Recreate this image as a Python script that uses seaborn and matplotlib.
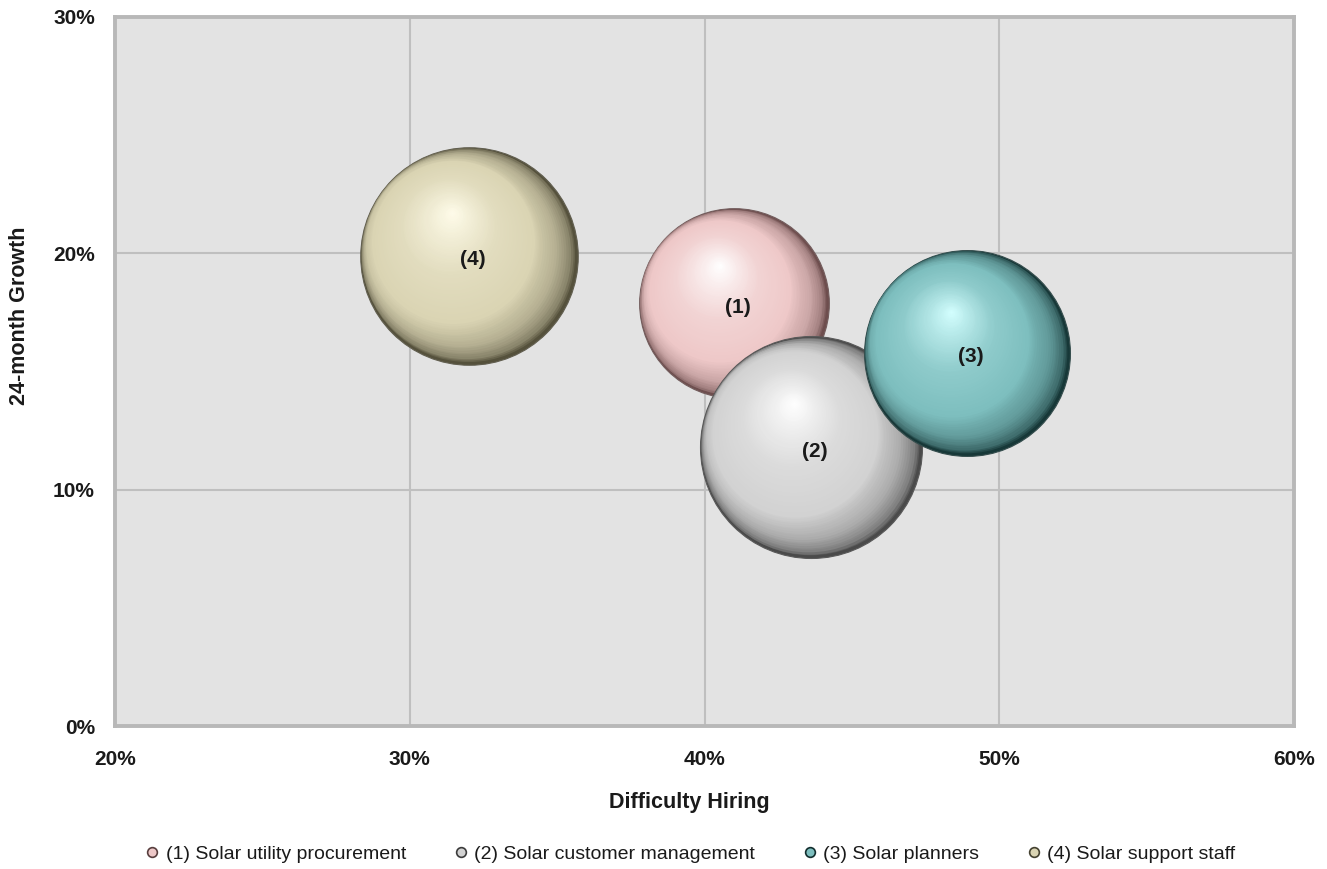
import numpy as np
import pandas as pd
import matplotlib
matplotlib.use("Agg")
import matplotlib.pyplot as plt
import seaborn as sns
from matplotlib import transforms
from matplotlib.colors import to_rgb, LinearSegmentedColormap
from matplotlib.lines import Line2D

# ---------------- data ----------------
labels = ["(1)", "(2)", "(3)", "(4)"]
names = ["(1) Solar utility procurement", "(2) Solar customer management",
         "(3) Solar planners", "(4) Solar support staff"]
difficulty_hiring = [41.0, 43.6, 48.9, 32.0]   # %
growth_24m = [17.9, 11.8, 15.8, 19.9]          # %
bubble_size = [0.73, 1.00, 0.86, 0.96]         # relative bubble value (area)
x_ticks = [20, 30, 40, 50, 60]
y_ticks = [0, 10, 20, 30]

# ---------------- styles ----------------
base_cols = ["#eec8c8", "#d2d2d2", "#7dbebe", "#dad4b3"]
high_cols = ["#ffffff", "#ffffff", "#d4ffff", "#fffcea"]
shade_cols = ["#6e4e4e", "#4a4a4a", "#173838", "#55513c"]

sns.set_theme(style="whitegrid")
plt.rcParams["font.family"] = ["Liberation Sans", "DejaVu Sans"]

df = pd.DataFrame({"name": names, "x": difficulty_hiring, "y": growth_24m,
                   "size": bubble_size, "label": labels})

W, H, DPI = 1327, 869, 100
fig = plt.figure(figsize=(W / DPI, H / DPI), dpi=DPI)
ax = fig.add_axes([115 / W, (H - 726) / H, (1294 - 115) / W, (726 - 17) / H])
ax.set_facecolor("#e3e3e3")

SMAX = (222 * 72 / DPI) ** 2   # points^2 for a bubble value of 1.0


def mix(c1, c2, a):
    c1, c2 = np.array(to_rgb(c1)), np.array(to_rgb(c2))
    return tuple(c1 * (1 - a) + c2 * a)


# base bubbles via seaborn
for i, row in df.iterrows():
    sns.scatterplot(data=df.iloc[[i]], x="x", y="y", size="size",
                    sizes=(0, SMAX), size_norm=(0, 1), hue="name",
                    palette={row["name"]: shade_cols[i]}, legend=False,
                    edgecolor=mix(shade_cols[i], "#808080", 0.3), linewidth=0.8,
                    zorder=3 + i, ax=ax)

# sphere shading layers (light from the upper left)
N = 80
path_t = [0.0, 0.2, 0.6, 1.0]
path_x = [0.0, -0.14, -0.18, -0.15]
path_y = [0.0, 0.10, 0.28, 0.40]
for i, row in df.iterrows():
    b, h, s = base_cols[i], high_cols[i], shade_cols[i]
    cmap = LinearSegmentedColormap.from_list(
        "s%d" % i,
        [(0.0, s), (0.035, mix(s, b, 0.4)), (0.11, mix(s, b, 0.72)),
         (0.25, b), (0.55, mix(b, h, 0.2)), (0.8, mix(b, h, 0.62)),
         (1.0, h)])
    R = np.sqrt(SMAX * row["size"]) / 2.0
    for k in range(1, N):
        t = k / N
        f = 1 - t
        dx = np.interp(t, path_t, path_x) * R
        dy = np.interp(t, path_t, path_y) * R
        tr = transforms.offset_copy(ax.transData, fig=fig, x=dx, y=dy, units="points")
        rr = R * f if k > 1 else R * f - 0.6
        ax.scatter([row["x"]], [row["y"]], s=(2 * rr) ** 2,
                   color=[cmap(t)], linewidths=0, transform=tr,
                   zorder=3 + i + k / (N + 1))

# labels
for i, row in df.iterrows():
    tr = transforms.offset_copy(ax.transData, fig=fig, x=3, y=-3, units="points")
    ax.text(row["x"], row["y"], row["label"], ha="center", va="center",
            fontsize=15, fontweight="bold", color="#1a1a1a", transform=tr,
            zorder=20)

# axes
ax.set_xlim(20, 60)
ax.set_ylim(0, 30)
ax.set_xticks(x_ticks)
ax.set_xticklabels([f"{v}%" for v in x_ticks])
ax.set_yticks(y_ticks)
ax.set_yticklabels([f"{v}%" for v in y_ticks])
ax.grid(True, color="#bfbfbf", linewidth=1.5)
ax.set_axisbelow(True)
for sp in ax.spines.values():
    sp.set_visible(True)
    sp.set_color("#b8b8b8")
    sp.set_linewidth(2.8)
ax.tick_params(axis="both", direction="out", length=4.5, width=1.5,
               color="#b8b8b8", labelsize=15, labelcolor="#1a1a1a")
ax.tick_params(axis="y", pad=10)
ax.tick_params(axis="x", pad=13)
for lab in ax.get_xticklabels() + ax.get_yticklabels():
    lab.set_fontweight("bold")

ax.set_xlabel("Difficulty Hiring", fontsize=15.5, fontweight="bold", color="#1a1a1a")
ax.set_ylabel("24-month Growth", fontsize=15.5, fontweight="bold", color="#1a1a1a")
ax.xaxis.set_label_coords((689 - 115) / 1179, (726 - 792) / 709)
ax.yaxis.set_label_coords((30 - 115) / 1179, (726 - 316) / 709)

# legend
handles = [Line2D([0], [0], marker="o", linestyle="none", markersize=7,
                  markerfacecolor=base_cols[i],
                  markeredgecolor=mix(shade_cols[i], "#000000", 0.2),
                  markeredgewidth=1.2) for i in range(len(names))]
fig.legend(handles, names, loc="center", bbox_to_anchor=(690 / W, (H - 854) / H),
           ncol=4, frameon=False, fontsize=14, handlelength=0.8,
           handletextpad=0.3, columnspacing=2.4, labelcolor="#1a1a1a")

fig.savefig("out.png", dpi=DPI)
